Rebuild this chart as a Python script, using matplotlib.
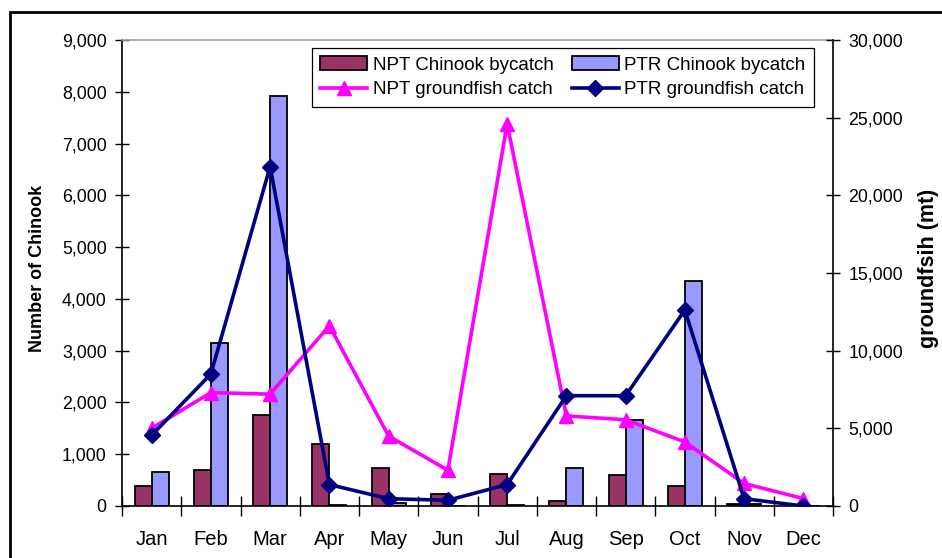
import numpy as np
import matplotlib
matplotlib.use("Agg")
import matplotlib.pyplot as plt
from matplotlib.patches import Rectangle
from matplotlib.ticker import FuncFormatter, FixedLocator

plt.rcParams["font.family"] = ["Liberation Sans", "DejaVu Sans"]

months = ["Jan", "Feb", "Mar", "Apr", "May", "Jun",
          "Jul", "Aug", "Sep", "Oct", "Nov", "Dec"]

# Chinook bycatch (left axis, number of fish)
npt_chinook = [380, 700, 1750, 1190, 730, 240, 620, 100, 590, 380, 30, 5]
ptr_chinook = [660, 3150, 7920, 25, 60, 0, 20, 730, 1670, 4340, 30, 0]

# groundfish catch (right axis, mt)
npt_groundfish = [5000, 7300, 7200, 11600, 4500, 2300, 24600, 5800, 5550, 4120, 1450, 480]
ptr_groundfish = [4550, 8500, 21850, 1380, 470, 370, 1380, 7100, 7100, 12620, 470, 0]

MAROON = "#993366"
PERIWINKLE = "#9999FF"
MAGENTA = "#FF00FF"
NAVY = "#000080"

fig = plt.figure(figsize=(9.42, 5.58), dpi=100)
ax = fig.add_axes([122 / 942, 1 - 506 / 558, (833 - 122) / 942, (506 - 40) / 558])
ax2 = ax.twinx()

x = np.arange(len(months))
w = 1 / 3.5
b1 = ax.bar(x - w / 2, npt_chinook, width=w, color=MAROON,
            edgecolor="black", linewidth=1.3, label="NPT Chinook bycatch")
b2 = ax.bar(x + w / 2, ptr_chinook, width=w, color=PERIWINKLE,
            edgecolor="black", linewidth=1.3, label="PTR Chinook bycatch")

l1, = ax2.plot(x, npt_groundfish, color=MAGENTA, lw=2.6, marker="^",
               markersize=10, label="NPT groundfish catch")
l2, = ax2.plot(x, ptr_groundfish, color=NAVY, lw=2.6, marker="D",
               markersize=8.5, label="PTR groundfish catch")

ax.set_xlim(-0.5, 11.5)
ax.set_ylim(0, 9000)
ax2.set_ylim(0, 30000)
ax.set_yticks(np.arange(0, 9001, 1000))
ax2.set_yticks(np.arange(0, 30001, 5000))

thousands = FuncFormatter(lambda v, p: f"{int(v):,}")
ax.yaxis.set_major_formatter(thousands)
ax2.yaxis.set_major_formatter(thousands)

ax.set_xticks(x)
ax.set_xticklabels(months, fontsize=14.5)
ax.xaxis.set_minor_locator(FixedLocator(np.arange(-0.5, 12, 1.0)))
ax.tick_params(axis="x", which="major", length=0, pad=17)
ax.tick_params(axis="x", which="minor", direction="inout", length=15, width=1)
ax.tick_params(axis="y", direction="inout", length=10, width=1, labelsize=12.8, pad=6)
ax2.tick_params(axis="y", direction="inout", length=10, width=1, labelsize=12.8, pad=6)

ax.set_ylabel("Number of Chinook", fontsize=13, fontweight="bold")
ax.yaxis.set_label_coords(-(122 - 46) / 711, 0.51)
ax2.set_ylabel("groundfsih (mt)", fontsize=15.5, fontweight="bold")
ax2.yaxis.set_label_coords(1 + (918 - 833) / 711, 0.51)

for a in (ax, ax2):
    for s in a.spines.values():
        s.set_linewidth(1.2)
ax.spines["top"].set_color("#A0A0A0")
ax.spines["right"].set_visible(False)
ax2.spines["top"].set_visible(False)
ax2.spines["left"].set_visible(False)
ax2.spines["bottom"].set_visible(False)

leg = ax2.legend([b1, l1, b2, l2],
                 ["NPT Chinook bycatch", "NPT groundfish catch",
                  "PTR Chinook bycatch", "PTR groundfish catch"],
                 ncol=2, loc="upper left",
                 bbox_to_anchor=(312 / 942, 1 - 48 / 558),
                 bbox_transform=fig.transFigure,
                 fontsize=13.5, frameon=True, fancybox=False,
                 edgecolor="black", framealpha=1, borderpad=0.45,
                 handlelength=2.5, handletextpad=0.3, columnspacing=0.95,
                 labelspacing=0.4, borderaxespad=0)
leg.get_frame().set_linewidth(0.9)

# outer chart-area frame, cut off by the right and bottom edges
fig.patches.append(Rectangle((10 / 942, -0.1), 1.2, 1.1 - 12 / 558,
                             transform=fig.transFigure, fill=False,
                             edgecolor="black", linewidth=2))

fig.savefig("out.png", dpi=100)
